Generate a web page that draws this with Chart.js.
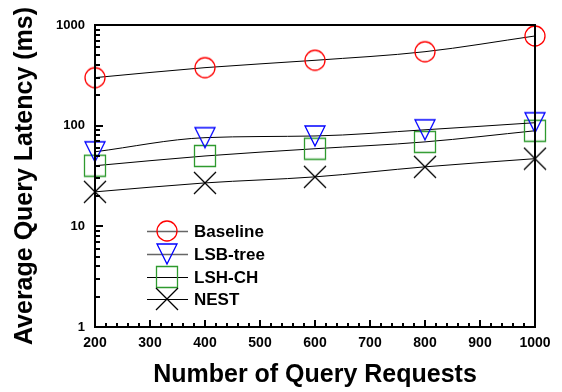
<!DOCTYPE html>
<html>
<head>
<meta charset="utf-8">
<script src="https://cdn.jsdelivr.net/npm/chart.js@4/dist/chart.umd.min.js"></script>
<style>
  html, body { margin: 0; padding: 0; background: #ffffff; }
  #wrap { width: 562px; height: 392px; }
</style>
</head>
<body>
<div id="wrap"><canvas id="chart" width="562" height="392"></canvas></div>
<script>
// Query latency (ms) against number of query requests
const requests = [200, 400, 600, 800, 1000];
const baseline = [300, 377, 446, 543, 778];
const lsbTree  = [55, 76, 79, 91, 107];
const lshCh    = [40, 50, 59, 69, 89];
const nest     = [22, 27, 31, 39, 47];

const seriesNames = ['Baseline', 'LSB-tree', 'LSH-CH', 'NEST'];
const yTickValues = [1, 10, 100, 1000];
const FONT = '"Liberation Sans", Arial, Helvetica, sans-serif';

// Hollow marker glyphs rendered once to small canvases
function marker(kind, color) {
  const c = document.createElement('canvas');
  c.width = 24; c.height = 24;
  const g = c.getContext('2d');
  g.strokeStyle = color;
  g.lineWidth = 1.3;
  g.beginPath();
  if (kind === 'circle') {
    g.arc(12, 12, 10, 0, Math.PI * 2);
  } else if (kind === 'tri') {
    g.moveTo(2, 2); g.lineTo(22, 2); g.lineTo(12, 22); g.closePath();
  } else if (kind === 'square') {
    g.rect(1.5, 1.5, 21, 21);
  } else {
    g.moveTo(1, 1); g.lineTo(23, 23);
    g.moveTo(23, 1); g.lineTo(1, 23);
  }
  g.stroke();
  return c;
}

const markers = [
  marker('circle', '#ff0000'),
  marker('tri', '#0000ff'),
  marker('square', '#2e9a2e'),
  marker('x', '#000000')
];
const legendLineColors = ['#666666', '#666666', '#000000', '#000000'];

function series(values) {
  return requests.map((x, i) => ({ x: x, y: values[i] }));
}

const allValues = [baseline, lsbTree, lshCh, nest];
const datasets = allValues.map((vals, i) => ({
  label: seriesNames[i],
  data: series(vals),
  borderColor: '#000000',
  borderWidth: 1,
  cubicInterpolationMode: 'monotone',
  pointStyle: markers[i],
  pointRadius: 10,
  pointHoverRadius: 10,
  clip: false,
  fill: false
}));

// Box frame, inward tick marks and the in-plot legend
const framePlugin = {
  id: 'frame',
  afterDraw(chart) {
    const ctx = chart.ctx;
    const a = chart.chartArea;
    const xs = chart.scales.x;
    const ys = chart.scales.y;
    ctx.save();

    // y ticks: decades long, intermediate values short
    ctx.fillStyle = '#000000';
    [1, 10, 100].forEach(d => {
      for (let m = 1; m <= 10; m++) {
        const py = Math.round(ys.getPixelForValue(d * m));
        const len = (m === 1 || m === 10) ? 8 : 5;
        ctx.fillRect(Math.round(a.left), py - 1, len, 2);
      }
    });
    // x ticks: every 100 long, every 20 short
    for (let v = 200; v <= 1000; v += 20) {
      const px = Math.round(xs.getPixelForValue(v));
      const len = v % 100 === 0 ? 7 : 4;
      ctx.fillRect(px - 1, Math.round(a.bottom) - len, 2, len);
    }

    // frame
    ctx.strokeStyle = '#000000';
    ctx.lineWidth = 2;
    ctx.strokeRect(a.left, a.top, a.right - a.left, a.bottom - a.top);

    // legend
    const lx0 = 147, lx1 = 188, mx = 167, tx = 194;
    const rows = [231, 254, 277, 299];
    ctx.font = 'bold 17px ' + FONT;
    ctx.textBaseline = 'middle';
    ctx.textAlign = 'left';
    for (let i = 0; i < seriesNames.length; i++) {
      const y = rows[i];
      ctx.strokeStyle = legendLineColors[i];
      ctx.lineWidth = i < 2 ? 1.6 : 1.2;
      ctx.beginPath();
      ctx.moveTo(lx0, y + 0.5);
      ctx.lineTo(lx1, y + 0.5);
      ctx.stroke();
      const img = markers[i];
      ctx.drawImage(img, mx - img.width / 2, y - img.height / 2);
      ctx.fillStyle = '#000000';
      ctx.fillText(seriesNames[i], tx, y + 1);
    }
    ctx.restore();
  }
};

new Chart(document.getElementById('chart'), {
  type: 'line',
  data: { datasets: datasets },
  plugins: [framePlugin],
  options: {
    responsive: false,
    animation: false,
    events: [],
    layout: { padding: { top: 25, right: 27, left: 0, bottom: 0 } },
    plugins: {
      legend: { display: false },
      tooltip: { enabled: false }
    },
    scales: {
      x: {
        type: 'linear',
        min: 200,
        max: 1000,
        grid: { display: false, drawTicks: false },
        border: { display: false },
        ticks: {
          stepSize: 100,
          padding: 8,
          color: '#000000',
          font: { family: FONT, size: 14, weight: 'bold' },
          maxRotation: 0,
          callback: (v) => String(v)
        },
        title: {
          display: true,
          text: 'Number of Query Requests',
          color: '#000000',
          font: { family: FONT, size: 25, weight: 'bold' },
          padding: { top: 0, bottom: 2 }
        },
        afterFit(scale) { scale.height = 65; }
      },
      y: {
        type: 'logarithmic',
        min: 1,
        max: 1000,
        grid: { display: false, drawTicks: false },
        border: { display: false },
        afterBuildTicks(scale) {
          scale.ticks = yTickValues.map(v => ({ value: v, major: true }));
        },
        ticks: {
          padding: 10,
          color: '#000000',
          font: { family: FONT, size: 13, weight: 'bold' },
          callback: (v) => String(v)
        },
        title: {
          display: true,
          text: 'Average Query Latency (ms)',
          color: '#000000',
          font: { family: FONT, size: 25, weight: 'bold' },
          padding: { top: 10, bottom: 0 }
        },
        afterFit(scale) { scale.width = 95; }
      }
    }
  }
});
</script>
</body>
</html>
